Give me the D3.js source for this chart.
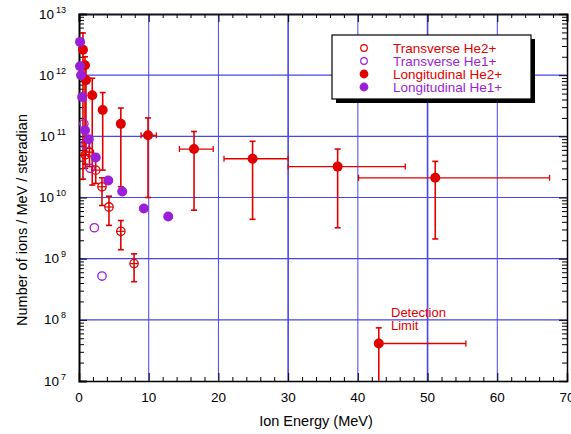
<!DOCTYPE html>
<html>
<head>
<meta charset="utf-8">
<script src="https://cdn.jsdelivr.net/npm/d3@7"></script>
<style>
  body { margin: 0; background: #fff; }
  text { font-family: "Liberation Sans", Arial, sans-serif; }
</style>
</head>
<body>
<script>
'use strict';

// ---- data ----
// Longitudinal He2+ (filled red, with error bars)
const longHe2E    = [0.57, 0.86, 1.0, 1.9, 3.4, 6.0, 9.9, 16.5, 24.9, 37.1, 51.1, 43.0];
const longHe2Val  = [2.6e12, 1.45e12, 8.3e11, 4.7e11, 2.7e11, 1.6e11, 1.04e11, 6.2e10, 4.3e10, 3.2e10, 2.1e10, 4.1e7];
const longHe2Hi   = [4.9e12, 2.0e12, 1.6e12, 8.9e11, 5.2e11, 2.9e11, 2.0e11, 1.2e11, 8.3e10, 6.2e10, 3.9e10, 7.4e7];
const longHe2Lo   = [2.0e10, 3.5e10, 5.0e10, 1.6e10, 2.8e10, 1.5e10, 1.0e10, 6.2e9, 4.4e9, 3.2e9, 2.1e9, 1e7];
const longHe2XLo  = [null, null, null, null, null, null, 8.9, 14.4, 20.8, 30.0, 40.1, 43.0];
const longHe2XHi  = [null, null, null, null, null, null, 11.1, 19.25, 30.0, 46.8, 67.5, 55.5];

// Transverse He2+ (open red, with error bars)
const transHe2E   = [0.9, 1.5, 2.4, 3.3, 4.3, 6.0, 7.9];
const transHe2Val = [5.0e10, 5.5e10, 2.8e10, 1.5e10, 7.0e9, 2.8e9, 8.3e8];
const transHe2Hi  = [8.0e10, 8.5e10, 4.2e10, 2.1e10, 1.05e10, 4.2e9, 1.2e9];
const transHe2Lo  = [3.0e10, 3.2e10, 1.7e10, 7.4e9, 3.5e9, 1.4e9, 4.2e8];

// Transverse He1+ (open purple)
const transHe1E   = [0.7, 0.86, 1.6, 2.2, 3.3];
const transHe1Val = [1.6e11, 7.4e10, 3.0e10, 3.2e9, 5.2e8];

// Longitudinal He1+ (filled purple)
const longHe1E    = [0.15, 0.15, 0.3, 0.45, 0.86, 1.4, 2.4, 4.2, 6.2, 9.3, 12.8];
const longHe1Val  = [3.5e12, 1.4e12, 1.0e12, 4.4e11, 1.26e11, 9.0e10, 4.5e10, 1.9e10, 1.25e10, 6.6e9, 4.9e9];

const xTicks = [0, 10, 20, 30, 40, 50, 60, 70];
const yExps  = [7, 8, 9, 10, 11, 12, 13];

const legendNames = ['Transverse He2+', 'Transverse He1+', 'Longitudinal He2+', 'Longitudinal He1+'];

const red = '#e00000';
const purple = '#9a1fd8';
const gridBlue = '#4646ee';

const width = 571, height = 434;
const svg = d3.select('body').append('svg')
  .attr('width', width)
  .attr('height', height);

const x = d3.scaleLinear().domain([0, 70]).range([79, 567]);
const y = d3.scaleLog().domain([1e7, 1e13]).range([381, 14]);

// grid
const grid = svg.append('g');
grid.selectAll('line.gx')
  .data(xTicks.slice(1, -1))
  .enter().append('line')
  .attr('x1', d => x(d)).attr('x2', d => x(d))
  .attr('y1', y(1e13)).attr('y2', y(1e7))
  .attr('stroke', gridBlue)
  .attr('stroke-width', d => (d === 30 || d === 50) ? 1.6 : 1);
grid.selectAll('line.gy')
  .data(yExps.slice(1, -1))
  .enter().append('line')
  .attr('x1', x(0)).attr('x2', x(70))
  .attr('y1', d => y(Math.pow(10, d))).attr('y2', d => y(Math.pow(10, d)))
  .attr('stroke', gridBlue).attr('stroke-width', 1.2);

// axes with inward ticks
const minorX = d3.range(0, 71, 2).filter(d => d % 10 !== 0);
const minorY = [];
yExps.slice(0, -1).forEach(e => {
  for (let k = 2; k <= 9; k++) minorY.push(k * Math.pow(10, e));
});

function ticksX(g, sign) {
  g.call(d3.axisBottom(x).tickValues(xTicks).tickSize(8 * sign).tickFormat(''));
  g.append('g').call(d3.axisBottom(x).tickValues(minorX).tickSize(4 * sign).tickFormat(''))
    .select('.domain').remove();
}
function ticksY(g, sign) {
  g.call(d3.axisLeft(y).tickValues(yExps.map(e => Math.pow(10, e))).tickSize(8 * sign).tickFormat(''));
  g.append('g').call(d3.axisLeft(y).tickValues(minorY).tickSize(5 * sign).tickFormat(''))
    .select('.domain').remove();
}

const axB = svg.append('g').attr('transform', `translate(0,${y(1e7)})`);
ticksX(axB, -1);
const axT = svg.append('g').attr('transform', `translate(0,${y(1e13)})`);
ticksX(axT, 1);
const axL = svg.append('g').attr('transform', `translate(${x(0)},0)`);
ticksY(axL, -1);
const axR = svg.append('g').attr('transform', `translate(${x(70)},0)`);
ticksY(axR, 1);

svg.selectAll('.domain').attr('stroke', '#000').attr('stroke-width', 1.5);
axL.select('.domain').attr('stroke-width', 2);
axT.select('.domain').attr('stroke', '#112').attr('stroke-width', 2);
svg.selectAll('.tick line').attr('stroke', '#000');

// tick labels
svg.append('g').selectAll('text')
  .data(xTicks)
  .enter().append('text')
  .attr('x', d => x(d))
  .attr('y', 402)
  .attr('text-anchor', 'middle')
  .style('font-size', '13.5px')
  .text(d => d);

const yl = svg.append('g').selectAll('text')
  .data(yExps)
  .enter().append('text')
  .attr('x', 66)
  .attr('y', d => y(Math.pow(10, d)) + 4.5)
  .attr('text-anchor', 'end')
  .style('font-size', '13.5px');
yl.append('tspan').text('10');
yl.append('tspan')
  .attr('dx', 2)
  .attr('dy', -6)
  .style('font-size', '9px')
  .text(d => d);

// axis titles
svg.append('text')
  .attr('x', 316)
  .attr('y', 426)
  .attr('text-anchor', 'middle')
  .style('font-size', '14.5px')
  .text('Ion Energy (MeV)');

svg.append('text')
  .attr('transform', 'translate(27,220)rotate(-90)')
  .attr('text-anchor', 'middle')
  .style('font-size', '14.5px')
  .text('Number of ions / MeV / steradian');

// error bars helper
const cap = 3;
function vErr(g, xs, lo, hi, color) {
  xs.forEach((e, i) => {
    const px = x(e);
    g.append('line')
      .attr('x1', px).attr('x2', px)
      .attr('y1', y(lo[i])).attr('y2', y(hi[i]))
      .attr('stroke', color).attr('stroke-width', 1.6);
    g.append('line')
      .attr('x1', px - cap).attr('x2', px + cap)
      .attr('y1', y(hi[i])).attr('y2', y(hi[i]))
      .attr('stroke', color).attr('stroke-width', 1.6);
    if (lo[i] > 1e7) {
      g.append('line')
        .attr('x1', px - cap).attr('x2', px + cap)
        .attr('y1', y(lo[i])).attr('y2', y(lo[i]))
        .attr('stroke', color).attr('stroke-width', 1.6);
    }
  });
}
function hErr(g, vals, xlo, xhi, color) {
  vals.forEach((v, i) => {
    if (xlo[i] === null) return;
    const py = y(v);
    g.append('line')
      .attr('x1', x(xlo[i])).attr('x2', x(xhi[i]))
      .attr('y1', py).attr('y2', py)
      .attr('stroke', color).attr('stroke-width', 1.3);
    [xlo[i], xhi[i]].forEach(xe => {
      if (xe === longHe2E[i]) return;
      g.append('line')
        .attr('x1', x(xe)).attr('x2', x(xe))
        .attr('y1', py - cap).attr('y2', py + cap)
        .attr('stroke', color).attr('stroke-width', 1.3);
    });
  });
}

const marks = svg.append('g');

// Longitudinal He2+
vErr(marks, longHe2E, longHe2Lo, longHe2Hi, red);
hErr(marks, longHe2Val, longHe2XLo, longHe2XHi, red);

// Transverse He2+
vErr(marks, transHe2E, transHe2Lo, transHe2Hi, red);
marks.selectAll('line.th2')
  .data(transHe2E)
  .enter().append('line')
  .attr('x1', d => x(d) - 4).attr('x2', d => x(d) + 4)
  .attr('y1', (d, i) => y(transHe2Val[i])).attr('y2', (d, i) => y(transHe2Val[i]))
  .attr('stroke', red).attr('stroke-width', 1.2);
marks.selectAll('circle.th2')
  .data(transHe2E)
  .enter().append('circle')
  .attr('cx', d => x(d))
  .attr('cy', (d, i) => y(transHe2Val[i]))
  .attr('r', 4.2)
  .attr('fill', 'none')
  .attr('stroke', red)
  .attr('stroke-width', 1.3);

// Transverse He1+
marks.selectAll('circle.th1')
  .data(transHe1E)
  .enter().append('circle')
  .attr('cx', d => x(d))
  .attr('cy', (d, i) => y(transHe1Val[i]))
  .attr('r', 4.2)
  .attr('fill', 'none')
  .attr('stroke', purple)
  .attr('stroke-width', 1.3);

// Longitudinal He2+ dots
marks.selectAll('circle.lh2')
  .data(longHe2E)
  .enter().append('circle')
  .attr('cx', d => x(d))
  .attr('cy', (d, i) => y(longHe2Val[i]))
  .attr('r', 5)
  .attr('fill', red);

// Longitudinal He1+ dots
marks.selectAll('circle.lh1')
  .data(longHe1E)
  .enter().append('circle')
  .attr('cx', d => x(d))
  .attr('cy', (d, i) => y(longHe1Val[i]))
  .attr('r', 5)
  .attr('fill', purple);

// detection limit note
const note = svg.append('text')
  .attr('x', 391)
  .attr('y', 317)
  .style('font-size', '13px')
  .attr('fill', red);
note.append('tspan').attr('x', 391).text('Detection');
note.append('tspan').attr('x', 391).attr('dy', 13).text('Limit');

// legend
const leg = svg.append('g');
leg.append('rect')
  .attr('x', 336).attr('y', 39)
  .attr('width', 199).attr('height', 64)
  .attr('fill', '#000');
leg.append('rect')
  .attr('x', 332).attr('y', 35)
  .attr('width', 199).attr('height', 64)
  .attr('fill', '#fff')
  .attr('stroke', '#000')
  .attr('stroke-width', 1.2);

const legColors = [red, purple, red, purple];
const legFilled = [false, false, true, true];
legendNames.forEach((name, i) => {
  const ly = 48 + i * 13;
  leg.append('circle')
    .attr('cx', 364).attr('cy', ly)
    .attr('r', legFilled[i] ? 3.8 : 3.3)
    .attr('fill', legFilled[i] ? legColors[i] : 'none')
    .attr('stroke', legColors[i])
    .attr('stroke-width', 1.2);
  leg.append('text')
    .attr('x', 393).attr('y', ly + 5)
    .style('font-size', '13.5px')
    .attr('fill', legColors[i])
    .text(name);
});
</script>
</body>
</html>
